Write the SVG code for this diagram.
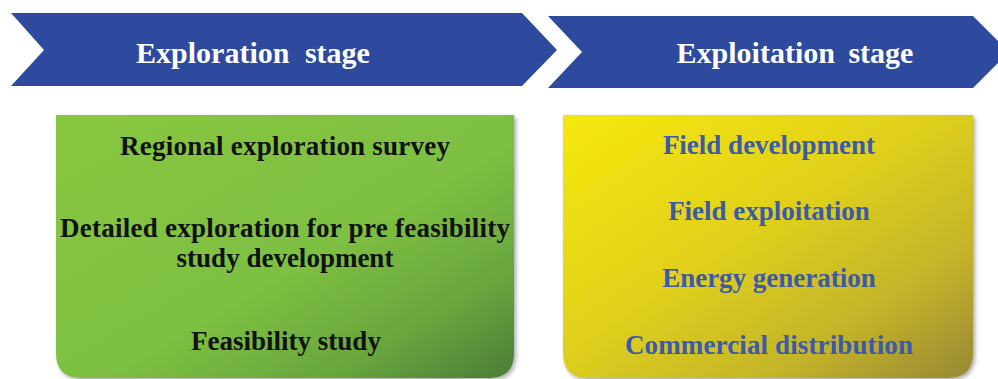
<svg xmlns="http://www.w3.org/2000/svg" width="998" height="379" viewBox="0 0 998 379">
<defs>
<linearGradient id="gGreen" x1="0" y1="0" x2="1" y2="1">
<stop offset="0" stop-color="#88c640"/>
<stop offset="0.55" stop-color="#7dc042"/>
<stop offset="0.8" stop-color="#68a53e"/>
<stop offset="1" stop-color="#4a7d37"/>
</linearGradient>
<linearGradient id="gYellow" x1="0" y1="0" x2="1" y2="1">
<stop offset="0" stop-color="#f6e80c"/>
<stop offset="0.45" stop-color="#e0d01c"/>
<stop offset="0.75" stop-color="#c4b42a"/>
<stop offset="1" stop-color="#978835"/>
</linearGradient>
<filter id="shadow" x="-5%" y="-5%" width="112%" height="115%">
<feGaussianBlur in="SourceAlpha" stdDeviation="2"/>
<feOffset dx="2" dy="2" result="b"/>
<feComponentTransfer><feFuncA type="linear" slope="0.35"/></feComponentTransfer>
<feMerge><feMergeNode/><feMergeNode in="SourceGraphic"/></feMerge>
</filter>
</defs>
<style>
.chev{fill:#2e4a9e}
.head{font-family:"Liberation Serif","Times New Roman",serif;font-weight:bold;font-size:30px;fill:#ffffff;text-anchor:middle}
.blk{font-family:"Liberation Serif","Times New Roman",serif;font-weight:bold;font-size:27px;fill:#111111;text-anchor:middle}
.blu{font-family:"Liberation Serif","Times New Roman",serif;font-weight:bold;font-size:27px;fill:#3b5aa8;text-anchor:middle}
</style>
<rect width="998" height="379" fill="#ffffff"/>
<g id="exploration-stage">
<polygon class="chev" points="11,13 522,13 557,50 522,86 11,86 44,50"/>
<text class="head" x="253" y="63" word-spacing="8">Exploration stage</text>
</g>
<g id="exploitation-stage">
<polygon class="chev" points="548,16 973,16 1009,52 973,88 548,88 582,52"/>
<text class="head" x="795" y="63" word-spacing="6">Exploitation stage</text>
</g>
<g id="exploration-box">
<path d="M56,115 H514 V353 Q514,378 489,378 H81 Q56,378 56,353 Z" fill="url(#gGreen)" filter="url(#shadow)"/>
<text class="blk" x="285" y="155" textLength="330" lengthAdjust="spacing">Regional exploration survey</text>
<text class="blk" x="285" y="237" textLength="450" lengthAdjust="spacing">Detailed exploration for pre feasibility</text>
<text class="blk" x="285" y="267">study development</text>
<text class="blk" x="286" y="350">Feasibility study</text>
</g>
<g id="exploitation-box">
<path d="M563,115 H973 V353 Q973,378 948,378 H588 Q563,378 563,353 Z" fill="url(#gYellow)" filter="url(#shadow)"/>
<text class="blu" x="769" y="154">Field development</text>
<text class="blu" x="769" y="220">Field exploitation</text>
<text class="blu" x="769" y="287">Energy generation</text>
<text class="blu" x="769" y="354" textLength="288" lengthAdjust="spacing">Commercial distribution</text>
</g>
<g id="connectors"/>
</svg>
